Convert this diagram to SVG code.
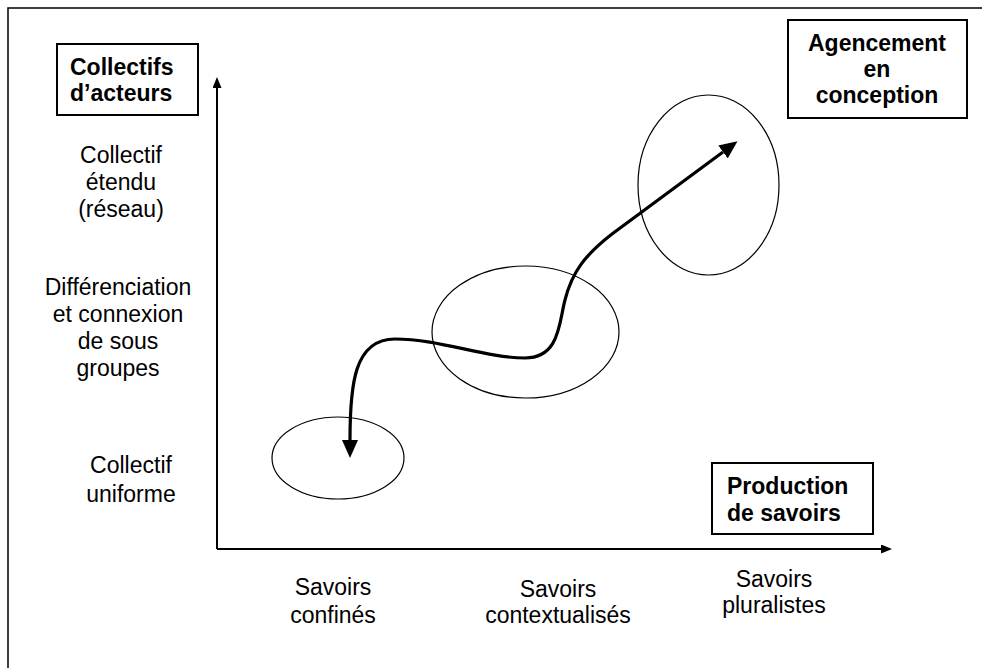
<svg xmlns="http://www.w3.org/2000/svg" width="982" height="668" viewBox="0 0 982 668">
<style>
  text { font-family: "Liberation Sans", Arial, sans-serif; fill: #000; }
  .lbl { font-size: 23px; text-anchor: middle; }
  .bold { font-size: 23px; font-weight: bold; }
  .box { fill: #fff; stroke: #000; stroke-width: 2; }
  .ell { fill: none; stroke: #000; stroke-width: 1.2; }
  .axis { fill: none; stroke: #000; stroke-width: 2; }
  .curve { fill: none; stroke: #000; stroke-width: 3.2; }
</style>
<defs>
  <marker id="axisHead" markerUnits="userSpaceOnUse" markerWidth="11" markerHeight="9" refX="0" refY="4.5" orient="auto" viewBox="0 0 11 9">
    <path d="M0,0 L11,4.5 L0,9 z" fill="#000"/>
  </marker>
  <marker id="curveHead" markerUnits="userSpaceOnUse" markerWidth="18" markerHeight="16" refX="0" refY="8" orient="auto-start-reverse" viewBox="0 0 18 16">
    <path d="M0,0 L18,8 L0,16 z" fill="#000"/>
  </marker>
</defs>
<rect width="982" height="668" fill="#fff"/>
<rect id="frame" x="8" y="8" width="1000" height="700" fill="none" stroke="#000" stroke-width="1.5"/>

<g id="connectors">
  <path id="y-axis" class="axis" d="M217,549 L217,88" marker-end="url(#axisHead)"/>
  <path id="x-axis" class="axis" d="M217,549 L881,549" marker-end="url(#axisHead)"/>
  <path id="trajectory" class="curve" d="M350,440 C350,385 354,339 395,339 C440,339 485,358 525,358 C560,358 559,322 565,300 C572,272 585,255 612,234 L723,152" marker-start="url(#curveHead)" marker-end="url(#curveHead)"/>
</g>

<g id="ellipse-confines"><ellipse class="ell" cx="338" cy="458" rx="66" ry="41"/></g>
<g id="ellipse-contextualises"><ellipse class="ell" cx="525.5" cy="332" rx="93.5" ry="66"/></g>
<g id="ellipse-pluralistes"><ellipse class="ell" cx="708.5" cy="185" rx="70.5" ry="90"/></g>

<g id="box-collectifs">
  <rect class="box" x="57" y="44" width="141" height="71"/>
  <text class="bold" x="70" y="75">Collectifs</text>
  <text class="bold" x="70" y="101">d’acteurs</text>
</g>

<g id="box-agencement">
  <rect class="box" x="788" y="20" width="179" height="98"/>
  <text class="bold" x="877" y="51" text-anchor="middle">Agencement</text>
  <text class="bold" x="877" y="77" text-anchor="middle">en</text>
  <text class="bold" x="877" y="103" text-anchor="middle">conception</text>
</g>

<g id="box-production">
  <rect class="box" x="712" y="463" width="161" height="71"/>
  <text class="bold" x="727" y="494">Production</text>
  <text class="bold" x="727" y="521">de savoirs</text>
</g>

<g id="label-collectif-etendu">
  <text class="lbl" x="121" y="163">Collectif</text>
  <text class="lbl" x="121" y="190">étendu</text>
  <text class="lbl" x="121" y="217">(réseau)</text>
</g>

<g id="label-differenciation">
  <text class="lbl" x="118" y="295">Différenciation</text>
  <text class="lbl" x="118" y="322">et connexion</text>
  <text class="lbl" x="118" y="349">de sous</text>
  <text class="lbl" x="118" y="376">groupes</text>
</g>

<g id="label-collectif-uniforme">
  <text class="lbl" x="131" y="473">Collectif</text>
  <text class="lbl" x="131" y="502">uniforme</text>
</g>

<g id="label-savoirs-confines">
  <text class="lbl" x="333" y="595">Savoirs</text>
  <text class="lbl" x="333" y="623">confinés</text>
</g>

<g id="label-savoirs-contextualises">
  <text class="lbl" x="558" y="597">Savoirs</text>
  <text class="lbl" x="558" y="623">contextualisés</text>
</g>

<g id="label-savoirs-pluralistes">
  <text class="lbl" x="774" y="587">Savoirs</text>
  <text class="lbl" x="774" y="613">pluralistes</text>
</g>
</svg>
